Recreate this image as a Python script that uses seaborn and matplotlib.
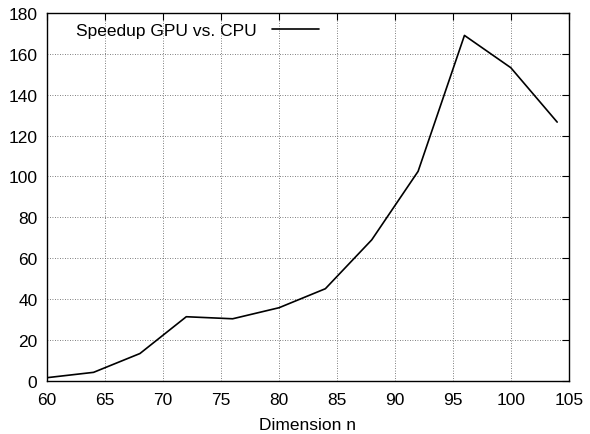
import matplotlib
matplotlib.use("Agg")
import matplotlib.pyplot as plt
import seaborn as sns
import pandas as pd

dimension = [60, 64, 68, 72, 76, 80, 84, 88, 92, 96, 100, 104]
speedup = [1.6, 4.2, 13.4, 31.4, 30.4, 35.8, 45.1, 69.0, 102.5, 169.0, 153.2, 126.6]
series_label = "Speedup GPU vs. CPU"

sns.set_theme(style="white")
plt.rcParams['font.family'] = ['Liberation Sans', 'DejaVu Sans']
plt.rcParams['text.color'] = 'black'
fs = 12.5

df = pd.DataFrame({'n': dimension, 'speedup': speedup})

fig = plt.figure(figsize=(5.9, 4.35), dpi=100)
ax = fig.add_axes([0.080, 0.122, 0.884, 0.846])

sns.lineplot(data=df, x='n', y='speedup', color='black', linewidth=1.2,
             label=series_label, ax=ax)

ax.set_xlim(60, 105)
ax.set_ylim(0, 180)
ax.set_xticks(range(60, 106, 5))
ax.set_yticks(range(0, 181, 20))
ax.set_xlabel('Dimension n', fontsize=fs, color='black', labelpad=7)
ax.set_ylabel('')
ax.grid(True, linestyle=(0, (1, 2)), color='#555555', linewidth=0.6)
ax.tick_params(direction='in', length=5, width=0.8, top=True, right=True,
               labelsize=fs, colors='black')
ax.tick_params(axis='x', pad=8)
ax.tick_params(axis='y', pad=7)
for s in ax.spines.values():
    s.set_color('black')
    s.set_linewidth(1.0)

leg = ax.legend(loc='upper left', frameon=False, markerfirst=False, fontsize=fs,
                handlelength=2.7, handletextpad=0.9, borderaxespad=0.2,
                bbox_to_anchor=(0.035, 1.0))
for t in leg.get_texts():
    t.set_color('black')

fig.savefig('out.png', dpi=100)
